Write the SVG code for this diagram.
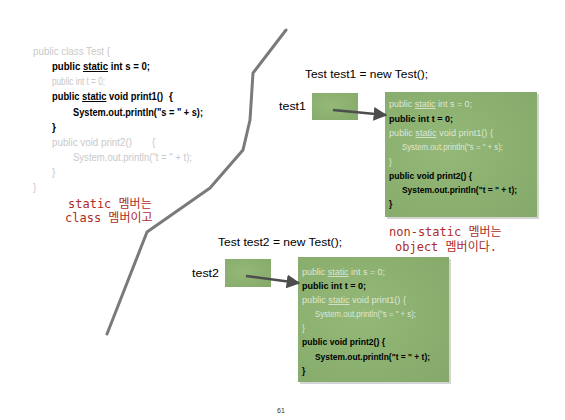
<svg xmlns="http://www.w3.org/2000/svg" width="565" height="420" viewBox="0 0 565 420">
<style>
.code{font-family:"Liberation Sans",Arial,sans-serif;font-size:10px}
.b{font-weight:bold;fill:#000}
.fade{fill:#c9c9c9}
.bx{font-family:"Liberation Sans",Arial,sans-serif;font-size:8.5px}
.bfade{fill:#dfe6d6}
.lbl{font-family:"Liberation Sans",Arial,sans-serif;font-size:11.5px;fill:#000}
.red{font-family:"DejaVu Sans Mono","Noto Sans CJK KR",monospace;font-size:12px;fill:#ad2d28}
.green{fill:url(#g)}
.shadow{fill:#d4d4d4}
.u{text-decoration:underline}
.conn{stroke:#4d4d4d;stroke-width:2.5;fill:none;marker-end:url(#ah)}
</style>
<defs>
<radialGradient id="g" cx="0.4" cy="0.45" r="0.8">
<stop offset="0" stop-color="#93b877"/>
<stop offset="1" stop-color="#84a96a"/>
</radialGradient>
<marker id="ah" viewBox="0 0 10 10" refX="9" refY="5" markerWidth="5.5" markerHeight="5.5" orient="auto" markerUnits="strokeWidth">
<path d="M0,0 L10,5 L0,10 z" fill="#4d4d4d"/>
</marker>
</defs>
<rect width="565" height="420" fill="#fff"/>

<g id="class-code" class="code">
<text x="33" y="55" class="fade" textLength="77" lengthAdjust="spacingAndGlyphs">public class Test {</text>
<text x="52" y="70" class="b" textLength="98" lengthAdjust="spacingAndGlyphs">public <tspan class="u">static</tspan> int s = 0;</text>
<text x="52" y="85" class="fade" textLength="53" lengthAdjust="spacingAndGlyphs">public int t = 0;</text>
<text x="52" y="100" class="b" textLength="111" lengthAdjust="spacingAndGlyphs">public <tspan class="u">static</tspan> void print1()</text>
<text x="169" y="100" class="b">{</text>
<text x="73" y="116" class="b" textLength="130" lengthAdjust="spacingAndGlyphs">System.out.println("s = " + s);</text>
<text x="52" y="131" class="b">}</text>
<text x="52" y="146" class="fade" textLength="80" lengthAdjust="spacingAndGlyphs">public void print2()</text>
<text x="152" y="146" class="fade">{</text>
<text x="73" y="161" class="fade" textLength="119" lengthAdjust="spacingAndGlyphs">System.out.println("t = " + t);</text>
<text x="52" y="176" class="fade">}</text>
<text x="33" y="191" class="fade">}</text>
</g>

<g id="divider">
<polyline points="286,30 253,73 250,120 243,150 210,188 147,232 107,334" fill="none" stroke="#7a7a7a" stroke-width="3" stroke-linejoin="round" stroke-linecap="round"/>
</g>

<g id="static-note">
<text x="68" y="208" class="red">static 멤버는</text>
<text x="65" y="222" class="red">class 멤버이고</text>
</g>

<g id="decl1">
<text x="305" y="78" class="lbl" textLength="123" lengthAdjust="spacingAndGlyphs">Test test1 = new Test();</text>
</g>
<g id="test1">
<text x="279" y="110" class="lbl" textLength="27" lengthAdjust="spacingAndGlyphs">test1</text>
<rect x="312" y="93" width="46" height="27" class="green"/>
</g>
<g id="object1">
<rect x="387" y="94" width="152" height="125" class="shadow"/>
<rect x="385" y="92" width="152" height="125" class="green"/>
<g class="bx">
<text x="389" y="107" class="bfade" textLength="83" lengthAdjust="spacingAndGlyphs">public <tspan class="u">static</tspan> int s = 0;</text>
<text x="389" y="122" class="b" textLength="64" lengthAdjust="spacingAndGlyphs">public int t = 0;</text>
<text x="389" y="136" class="bfade" textLength="104" lengthAdjust="spacingAndGlyphs">public <tspan class="u">static</tspan> void print1() {</text>
<text x="402" y="150" class="bfade" textLength="101" lengthAdjust="spacingAndGlyphs">System.out.println("s = " + s);</text>
<text x="389" y="165" class="bfade">}</text>
<text x="389" y="179" class="b" textLength="83" lengthAdjust="spacingAndGlyphs">public void print2() {</text>
<text x="402" y="193" class="b" textLength="115" lengthAdjust="spacingAndGlyphs">System.out.println("t = " + t);</text>
<text x="389" y="207" class="b">}</text>
</g>
</g>

<g id="nonstatic-note">
<text x="389" y="236" class="red">non-static 멤버는</text>
<text x="395" y="251" class="red">object 멤버이다.</text>
</g>

<g id="decl2">
<text x="218" y="246" class="lbl" textLength="124" lengthAdjust="spacingAndGlyphs">Test test2 = new Test();</text>
</g>
<g id="test2">
<text x="192" y="277" class="lbl" textLength="27" lengthAdjust="spacingAndGlyphs">test2</text>
<rect x="225" y="259" width="46" height="28" class="green"/>
</g>
<g id="object2">
<rect x="300" y="259" width="151" height="125" class="shadow"/>
<rect x="298" y="257" width="151" height="125" class="green"/>
<g class="bx">
<text x="302" y="275" class="bfade" textLength="83" lengthAdjust="spacingAndGlyphs">public <tspan class="u">static</tspan> int s = 0;</text>
<text x="302" y="289" class="b" textLength="64" lengthAdjust="spacingAndGlyphs">public int t = 0;</text>
<text x="302" y="303" class="bfade" textLength="104" lengthAdjust="spacingAndGlyphs">public <tspan class="u">static</tspan> void print1() {</text>
<text x="315" y="317" class="bfade" textLength="101" lengthAdjust="spacingAndGlyphs">System.out.println("s = " + s);</text>
<text x="302" y="331" class="bfade">}</text>
<text x="302" y="345" class="b" textLength="83" lengthAdjust="spacingAndGlyphs">public void print2() {</text>
<text x="315" y="360" class="b" textLength="115" lengthAdjust="spacingAndGlyphs">System.out.println("t = " + t);</text>
<text x="302" y="374" class="b">}</text>
</g>
</g>

<g id="connectors">
<line x1="333" y1="110" x2="386" y2="115" class="conn"/>
<line x1="246" y1="276" x2="299" y2="283" class="conn"/>
</g>

<text x="277" y="413" font-family="Liberation Sans,Arial,sans-serif" font-size="7" fill="#333">61</text>
</svg>
